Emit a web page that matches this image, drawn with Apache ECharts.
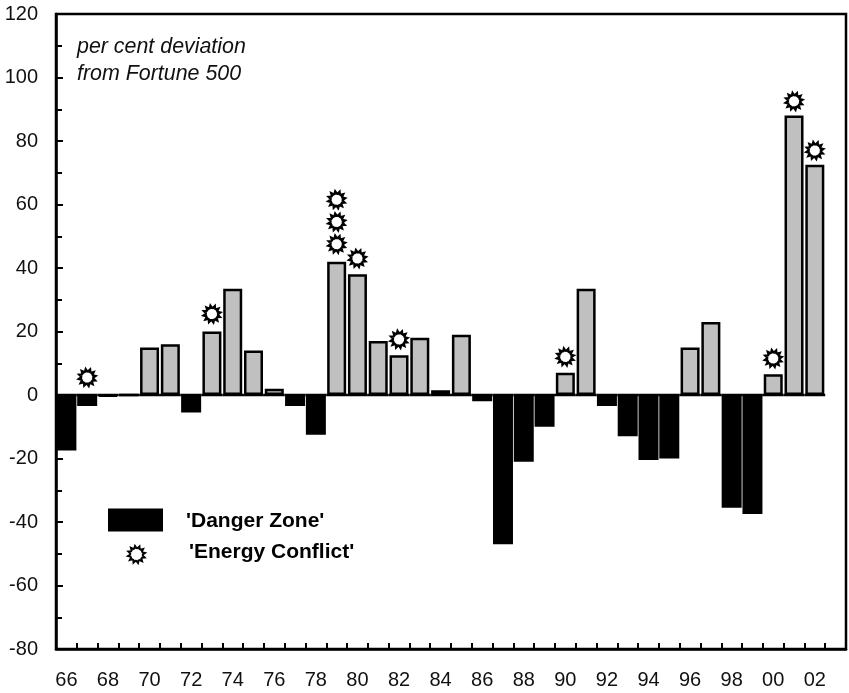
<!DOCTYPE html>
<html><head><meta charset="utf-8">
<style>html,body{margin:0;padding:0;background:#fff}#c{width:849px;height:693px}</style>
<script src="https://cdn.jsdelivr.net/npm/echarts@6/dist/echarts.min.js"></script>
</head><body><div id="c"></div>
<script>
const years=['66','67','68','69','70','71','72','73','74','75','76','77','78','79','80','81','82','83','84','85','86','87','88','89','90','91','92','93','94','95','96','97','98','99','00','01','02',''];
const deviation=[-17.5,-3.5,-0.5,0,15,16,-5.5,20,33.5,14,2,-3.5,-12.5,42,38,17,12.5,18,1.5,19,-2,-47,-21,-10,7,33.5,-3.5,-13,-20.5,-20,15,23,-35.5,-37.5,6.5,88,72.5,null];
const conflictYears=['67','73','79','79','79','80','82','90','00','01','02'];
const conflictValues=[5.5,25.5,47.5,54.5,61.5,43,17.5,12,11.5,92.5,77];
const noteText='per cent deviation\nfrom Fortune 500';
const font='"Liberation Sans", Arial, sans-serif';

let p='path://';
const N=12;
for(let i=0;i<N;i++){const a=i*2*Math.PI/N+0.35;const d=0.17;
  const pts=[[7.4,a-d],[10,a],[7.4,a+d]];
  pts.forEach((q,j)=>{p+=((i||j)?'L':'M')+(10+q[0]*Math.cos(q[1])).toFixed(2)+' '+(10+q[0]*Math.sin(q[1])).toFixed(2);});}
p+='Z';
const starMark=p;

const hiddenAxis={type:'category',data:years,position:'bottom',
  axisLine:{show:false},axisTick:{show:false},axisLabel:{show:false},splitLine:{show:false}};

const chart=echarts.init(document.getElementById('c'),null,{renderer:'canvas'});
chart.setOption({
  animation:false,
  backgroundColor:'#fff',
  title:{text:noteText,left:72,top:29,textStyle:{fontFamily:font,fontStyle:'italic',fontWeight:'normal',fontSize:21.4,lineHeight:27,color:'#111'}},
  grid:{left:56,right:3,top:14,bottom:44,show:true,borderColor:'#000',borderWidth:2.5,backgroundColor:'transparent'},
  legend:[
    {data:[{name:'\'Danger Zone\'',icon:'rect'}],left:103,top:503,itemWidth:53,itemHeight:21,selectedMode:false,
     formatter:n=>' \n'+n,
     textStyle:{fontFamily:font,fontWeight:'bold',fontSize:21,lineHeight:3,color:'#000',padding:[0,0,0,19]}},
    {data:['\'Energy Conflict\''],left:122,top:537,itemWidth:17,itemHeight:17,selectedMode:false,
     formatter:n=>n+'\n ',
     textStyle:{fontFamily:font,fontWeight:'bold',fontSize:21,lineHeight:4,color:'#000',padding:[0,0,0,39]}}
  ],
  xAxis:[
    {type:'category',data:years,position:'bottom',
     axisLine:{onZero:false,lineStyle:{color:'#000',width:2.5}},
     axisTick:{show:true,inside:true,length:6,interval:0,lineStyle:{color:'#000',width:2}},
     axisLabel:{interval:1,margin:21,fontFamily:font,fontSize:20,color:'#111'},splitLine:{show:false}},
    hiddenAxis,
    Object.assign({},hiddenAxis)
  ],
  yAxis:{type:'value',min:-80,max:120,interval:20,
     axisLine:{show:true,lineStyle:{color:'#000',width:2.5}},
     axisTick:{show:true,inside:true,length:7,lineStyle:{color:'#000',width:2}},
     minorTick:{show:true,splitNumber:2,length:6,lineStyle:{color:'#000',width:2}},
     axisLabel:{margin:18,fontFamily:font,fontSize:20,color:'#111'},
     splitLine:{show:false},minorSplitLine:{show:false}},
  series:[
    {name:'Baseline',type:'bar',xAxisIndex:2,barWidth:'100%',silent:true,
     data:deviation.map(v=>v===null?null:0),
     itemStyle:{color:'#000',borderColor:'#000',borderWidth:2.5}},
    {name:'\'Danger Zone\'',type:'bar',xAxisIndex:1,barWidth:20,
     data:deviation.map(v=>v!==null&&v<0?v:null),
     itemStyle:{color:'#000',borderColor:'#000',borderWidth:2.5}},
    {name:'Above',type:'bar',xAxisIndex:0,barWidth:19,
     data:deviation.map(v=>v!==null&&v>=0?v:null),
     itemStyle:{color:'#c0c0c0',borderColor:'#000',borderWidth:2.5}},
    {name:'\'Energy Conflict\'',type:'scatter',xAxisIndex:0,symbol:starMark,symbolSize:16.5,z:5,
     data:conflictYears.map((y,i)=>[y,conflictValues[i]]),
     itemStyle:{color:'#fff',borderColor:'#000',borderWidth:2.4,opacity:1}}
  ]
});
</script></body></html>
